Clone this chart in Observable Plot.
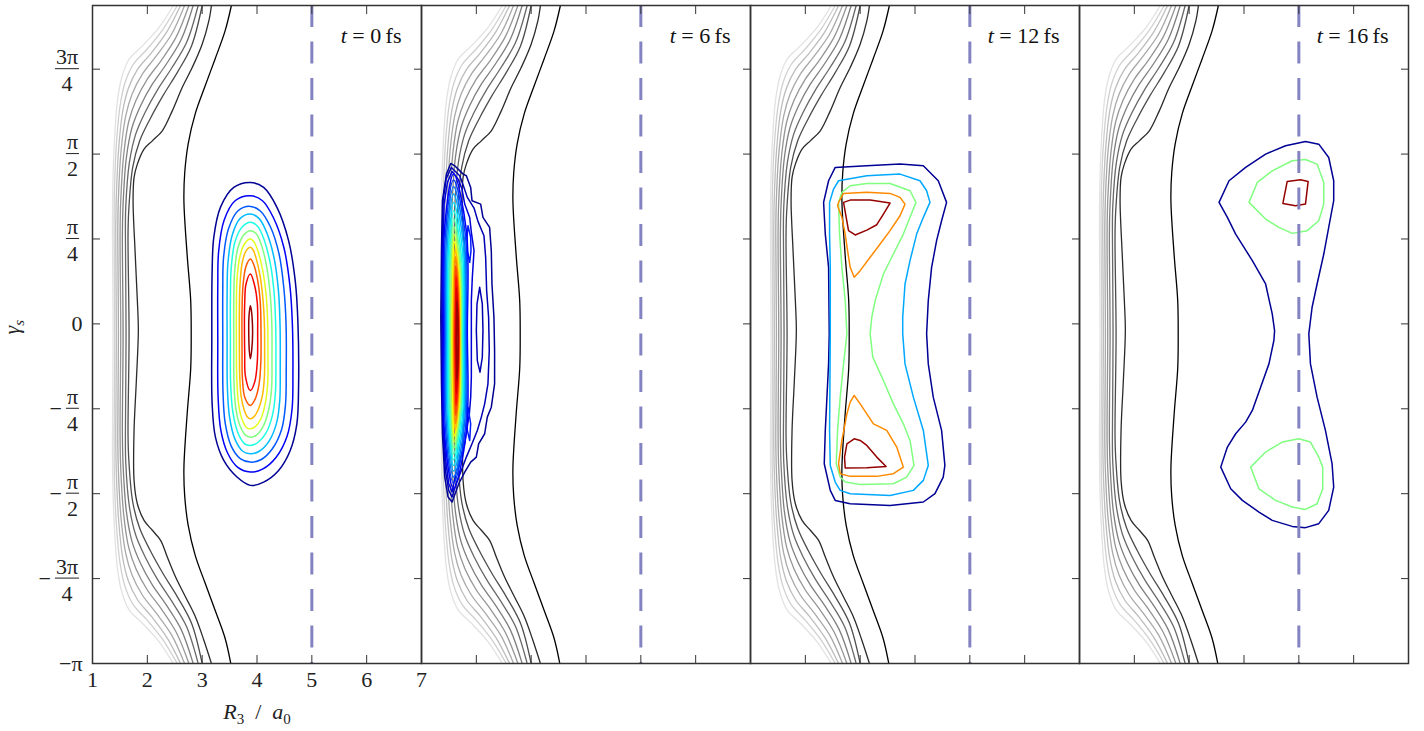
<!DOCTYPE html>
<html><head><meta charset="utf-8">
<script src="https://cdn.jsdelivr.net/npm/d3@7"></script>
<script src="https://cdn.jsdelivr.net/npm/@observablehq/plot@0.6"></script>
<style>
html,body{margin:0;padding:0;background:#fff;}
svg text{font-family:"Liberation Serif","DejaVu Serif",serif;}
</style>
</head><body>
<script>
// ================= DATA =================
const times = [0, 6, 12, 16];                   // fs, one panel each
const xTicks = [1, 2, 3, 4, 5, 6, 7];           // R3 / a0
const yTicks = [-4, -3, -2, -1, 0, 1, 2, 3];    // γs in units of π/4
const yDomain = [-4, 3.75];
const xDomain = [1, 7];
const yFracTicks = [3, 2, 1, -1, -2, -3];
const yFracNum = ["3π", "π", "π", "π", "π", "3π"];
const yFracDen = ["4", "2", "4", "4", "2", "4"];
const yPlainTicks = [0, -4];
const yPlainText = ["0", "−π"];
const boundaryR = [5];
const xLabel = "R3 / a0";
const yLabel = "γs";

// potential energy contours (same in every panel), [R3, γs/(π/4)], lightest to darkest
const potential1 = [[2.473,3.75],[2.212,3.490],[1.909,3.274],[1.667,3.117],[1.533,2.902],[1.455,2.627],[1.4,2.156],[1.370,1.607],[1.364,1.058],[1.376,-0.126],[1.364,-1.310],[1.370,-1.859],[1.4,-2.408],[1.455,-2.879],[1.533,-3.154],[1.667,-3.369],[1.909,-3.526],[2.212,-3.742],[2.473,-4.0]];
const potential2 = [[2.545,3.75],[2.285,3.470],[1.994,3.235],[1.745,3.058],[1.594,2.843],[1.503,2.568],[1.436,2.117],[1.4,1.568],[1.394,1.058],[1.406,-0.126],[1.394,-1.310],[1.4,-1.820],[1.436,-2.369],[1.503,-2.820],[1.594,-3.095],[1.745,-3.310],[1.994,-3.487],[2.285,-3.722],[2.545,-4.0]];
const potential3 = [[2.606,3.75],[2.358,3.443],[2.079,3.196],[1.824,3.0],[1.655,2.776],[1.552,2.509],[1.479,2.078],[1.436,1.529],[1.424,1.058],[1.436,-0.126],[1.424,-1.310],[1.436,-1.781],[1.479,-2.330],[1.552,-2.761],[1.655,-3.028],[1.824,-3.252],[2.079,-3.448],[2.358,-3.695],[2.606,-4.0]];
const potential4 = [[2.679,3.75],[2.442,3.411],[2.164,3.156],[1.909,2.941],[1.721,2.705],[1.606,2.451],[1.521,2.039],[1.473,1.490],[1.461,1.058],[1.473,-0.126],[1.461,-1.310],[1.473,-1.742],[1.521,-2.291],[1.606,-2.703],[1.721,-2.957],[1.909,-3.193],[2.164,-3.408],[2.442,-3.663],[2.679,-4.0]];
const potential5 = [[2.758,3.75],[2.527,3.380],[2.255,3.105],[2.0,2.882],[1.794,2.635],[1.661,2.384],[1.570,2.0],[1.515,1.451],[1.503,1.058],[1.515,-0.126],[1.503,-1.310],[1.515,-1.703],[1.570,-2.252],[1.661,-2.636],[1.794,-2.887],[2.0,-3.134],[2.255,-3.357],[2.527,-3.632],[2.758,-4.0]];
const potential6 = [[2.836,3.75],[2.618,3.349],[2.345,3.058],[2.091,2.823],[1.873,2.564],[1.721,2.313],[1.618,1.960],[1.558,1.411],[1.545,1.058],[1.558,-0.126],[1.545,-1.310],[1.558,-1.663],[1.618,-2.212],[1.721,-2.565],[1.873,-2.816],[2.091,-3.075],[2.345,-3.310],[2.618,-3.601],[2.836,-4.0]];
const potential7 = [[2.927,3.75],[2.715,3.313],[2.442,3.011],[2.188,2.760],[1.958,2.490],[1.788,2.235],[1.673,1.902],[1.606,1.372],[1.6,1.058],[1.612,-0.126],[1.6,-1.310],[1.606,-1.624],[1.673,-2.154],[1.788,-2.487],[1.958,-2.742],[2.188,-3.012],[2.442,-3.263],[2.715,-3.565],[2.927,-4.0]];
const potential8 = [[3.0,3.75],[2.806,3.274],[2.545,2.960],[2.291,2.694],[2.048,2.411],[1.861,2.156],[1.733,1.843],[1.661,1.333],[1.648,1.058],[1.667,-0.126],[1.648,-1.310],[1.661,-1.585],[1.733,-2.095],[1.861,-2.408],[2.048,-2.663],[2.291,-2.946],[2.545,-3.212],[2.806,-3.526],[3.0,-4.0]];
const potential9 = [[3.169,3.75],[3.122,3.568],[3.0,3.294],[2.818,3.019],[2.636,2.784],[2.455,2.509],[2.273,2.274],[2.091,2.156],[1.940,2.059],[1.818,1.882],[1.758,1.725],[1.740,1.451],[1.776,0.862],[1.818,0.274],[1.836,-0.079],[1.800,-0.667],[1.758,-1.255],[1.758,-1.844],[1.818,-2.118],[1.940,-2.314],[2.091,-2.431],[2.242,-2.549],[2.364,-2.746],[2.515,-2.981],[2.697,-3.216],[2.878,-3.452],[3.031,-3.726],[3.169,-4.0]];
const potential10 = [[3.533,3.75],[3.418,3.451],[3.236,3.121],[3.055,2.804],[2.873,2.474],[2.745,2.121],[2.682,1.780],[2.667,1.451],[2.727,0.804],[2.791,0.274],[2.8,-0.126],[2.791,-0.526],[2.727,-1.055],[2.667,-1.702],[2.682,-2.032],[2.745,-2.373],[2.873,-2.726],[3.055,-3.055],[3.236,-3.373],[3.418,-3.702],[3.522,-4.0]];
const potentialLines = [potential1, potential2, potential3, potential4, potential5, potential6, potential7, potential8, potential9, potential10];

// density contours, level = fraction of the panel maximum
const density0 = [
 {level:0.02, pts:[[3.879,1.666],[3.576,1.607],[3.333,1.372],[3.212,1.019],[3.182,0.627],[3.176,-0.157],[3.182,-0.942],[3.242,-1.334],[3.394,-1.608],[3.636,-1.804],[3.879,-1.902],[4.121,-1.863],[4.394,-1.726],[4.606,-1.491],[4.727,-1.177],[4.758,-0.746],[4.745,0.039],[4.697,0.509],[4.576,0.980],[4.364,1.372],[4.121,1.607]]},
 {level:0.116, pts:[[3.879,1.509],[3.6,1.45],[3.40,1.22],[3.30,0.85],[3.285,0.45],[3.285,-0.2],[3.29,-0.85],[3.34,-1.25],[3.47,-1.53],[3.65,-1.69],[3.879,-1.745],[4.10,-1.71],[4.35,-1.57],[4.55,-1.32],[4.64,-1.0],[4.655,-0.6],[4.645,0.0],[4.60,0.45],[4.49,0.90],[4.30,1.25],[4.10,1.45]]},
 {level:0.212, pts:[[3.879,1.384],[3.65,1.33],[3.48,1.12],[3.39,0.78],[3.376,0.4],[3.376,-0.2],[3.38,-0.8],[3.42,-1.17],[3.53,-1.44],[3.70,-1.59],[3.879,-1.628],[4.07,-1.60],[4.28,-1.47],[4.45,-1.24],[4.52,-0.95],[4.533,-0.55],[4.53,0.0],[4.49,0.42],[4.40,0.83],[4.24,1.15],[4.06,1.33]]},
 {level:0.308, pts:[[3.879,1.294],[3.69,1.24],[3.55,1.05],[3.47,0.72],[3.455,0.35],[3.455,-0.2],[3.46,-0.75],[3.50,-1.10],[3.60,-1.36],[3.74,-1.50],[3.879,-1.530],[4.04,-1.50],[4.22,-1.38],[4.36,-1.16],[4.415,-0.9],[4.424,-0.5],[4.42,0.0],[4.39,0.40],[4.31,0.78],[4.18,1.07],[4.04,1.24]]},
 {level:0.404, pts:[[3.879,1.196],[3.73,1.14],[3.60,0.97],[3.53,0.66],[3.515,0.3],[3.515,-0.2],[3.52,-0.72],[3.56,-1.04],[3.65,-1.28],[3.77,-1.41],[3.879,-1.432],[4.01,-1.40],[4.16,-1.29],[4.28,-1.08],[4.335,-0.82],[4.345,-0.45],[4.34,0.0],[4.31,0.38],[4.24,0.72],[4.13,0.99],[4.01,1.15]]},
 {level:0.5, pts:[[3.879,1.098],[3.76,1.05],[3.65,0.89],[3.59,0.60],[3.576,0.25],[3.576,-0.2],[3.58,-0.68],[3.61,-0.98],[3.69,-1.20],[3.79,-1.31],[3.879,-1.334],[3.99,-1.31],[4.11,-1.21],[4.21,-1.02],[4.265,-0.77],[4.273,-0.42],[4.27,0.0],[4.24,0.35],[4.18,0.66],[4.09,0.91],[3.99,1.06]]},
 {level:0.596, pts:[[3.879,0.999],[3.78,0.95],[3.69,0.80],[3.635,0.52],[3.624,0.2],[3.624,-0.2],[3.63,-0.62],[3.66,-0.92],[3.72,-1.11],[3.81,-1.22],[3.879,-1.236],[3.97,-1.21],[4.07,-1.12],[4.15,-0.94],[4.195,-0.70],[4.200,-0.38],[4.195,0.0],[4.17,0.32],[4.11,0.61],[4.03,0.83],[3.95,0.96]]},
 {level:0.692, pts:[[3.879,0.902],[3.80,0.86],[3.73,0.72],[3.69,0.46],[3.679,0.15],[3.679,-0.25],[3.685,-0.6],[3.71,-0.85],[3.77,-1.02],[3.83,-1.10],[3.879,-1.118],[3.95,-1.09],[4.03,-1.00],[4.10,-0.84],[4.135,-0.62],[4.139,-0.35],[4.135,0.0],[4.11,0.28],[4.06,0.55],[3.99,0.76],[3.93,0.87]]},
 {level:0.788, pts:[[3.879,0.764],[3.80,0.68],[3.745,0.45],[3.727,0.15],[3.727,-0.3],[3.735,-0.65],[3.78,-0.87],[3.879,-0.961],[3.97,-0.88],[4.04,-0.70],[4.07,-0.45],[4.073,-0.1],[4.06,0.25],[4.01,0.52],[3.94,0.70]]},
 {level:0.884, pts:[[3.879,0.588],[3.80,0.47],[3.776,0.25],[3.776,-0.35],[3.79,-0.62],[3.879,-0.785],[3.96,-0.68],[4.005,-0.45],[4.012,-0.1],[4.005,0.25],[3.95,0.47]]},
 {level:0.98, pts:[[3.879,0.215],[3.853,0.08],[3.85,-0.12],[3.86,-0.32],[3.879,-0.412],[3.905,-0.30],[3.92,-0.10],[3.91,0.08],[3.895,0.17]]}
];

const density6Outer = [
 {level:0.02, pts:[[1.533,1.890],[1.606,1.862],[1.758,1.764],[1.818,1.745],[1.897,1.607],[1.921,1.451],[2.079,1.411],[2.121,1.254],[2.242,1.137],[2.273,0.862],[2.285,0.470],[2.321,0.078],[2.333,-0.314],[2.333,-0.706],[2.273,-0.981],[2.2,-1.098],[2.152,-1.294],[2.042,-1.412],[2.0,-1.569],[1.897,-1.628],[1.788,-1.745],[1.679,-1.883],[1.558,-2.098],[1.485,-2.040],[1.424,-1.804],[1.382,-1.294],[1.364,-0.706],[1.352,0.078],[1.364,0.862],[1.382,1.451],[1.455,1.764]]},
 {level:0.05, pts:[[1.545,1.843],[1.697,1.745],[1.764,1.627],[1.836,1.490],[1.958,1.364],[2.030,1.207],[2.139,1.039],[2.170,0.784],[2.188,0.392],[2.224,0.078],[2.236,-0.314],[2.212,-0.706],[2.152,-0.942],[2.091,-1.098],[2.018,-1.255],[1.921,-1.412],[1.818,-1.569],[1.727,-1.726],[1.630,-1.883],[1.558,-2.040],[1.497,-1.961],[1.436,-1.726],[1.394,-1.294],[1.376,-0.706],[1.370,0.078],[1.376,0.862],[1.394,1.451],[1.448,1.706]]},
 {level:0.085, pts:[[1.558,1.796],[1.667,1.705],[1.739,1.588],[1.788,1.411],[1.879,1.254],[1.909,1.078],[1.958,0.862],[1.927,0.549],[1.909,0.274],[1.909,0.0],[1.909,-0.314],[1.909,-0.628],[1.897,-0.863],[1.873,-1.059],[1.824,-1.255],[1.788,-1.412],[1.697,-1.608],[1.618,-1.785],[1.558,-1.981],[1.497,-1.883],[1.448,-1.647],[1.406,-1.294],[1.388,-0.706],[1.388,0.078],[1.394,0.862],[1.412,1.411],[1.473,1.666]]},
 {level:0.05, pts:[[2.061,0.431],[2.109,0.235],[2.121,-0.079],[2.109,-0.393],[2.067,-0.569],[2.018,-0.432],[2.0,-0.079],[2.012,0.235]]},
 {level:0.15, pts:[[1.848,1.157],[1.897,1.019],[1.903,0.862],[1.879,0.725],[1.836,0.862],[1.830,1.019]]},
 {level:0.15, pts:[[1.848,-0.981],[1.897,-1.177],[1.879,-1.373],[1.836,-1.255],[1.824,-1.098]]}
];
const density6Core = [
 {level:0.12,  pts:[[1.585,1.764],[1.418,1.098],[1.406,-0.087],[1.418,-1.275],[1.585,-1.942],[1.818,-1.275],[1.836,-0.087],[1.818,1.098]]},
 {level:0.177, pts:[[1.585,1.694],[1.436,1.051],[1.424,-0.091],[1.436,-1.232],[1.585,-1.875],[1.8,-1.232],[1.818,-0.091],[1.8,1.051]]},
 {level:0.233, pts:[[1.585,1.615],[1.455,0.999],[1.442,-0.095],[1.455,-1.189],[1.585,-1.804],[1.782,-1.189],[1.8,-0.095],[1.782,0.999]]},
 {level:0.29,  pts:[[1.585,1.529],[1.473,0.941],[1.461,-0.103],[1.473,-1.145],[1.585,-1.734],[1.764,-1.145],[1.782,-0.103],[1.764,0.941]]},
 {level:0.347, pts:[[1.585,1.431],[1.491,0.874],[1.479,-0.118],[1.491,-1.110],[1.585,-1.667],[1.745,-1.110],[1.764,-0.118],[1.745,0.874]]},
 {level:0.403, pts:[[1.585,1.333],[1.509,0.804],[1.497,-0.134],[1.509,-1.071],[1.585,-1.6],[1.727,-1.071],[1.745,-0.134],[1.727,0.804]]},
 {level:0.46,  pts:[[1.588,1.235],[1.527,0.737],[1.515,-0.149],[1.527,-1.032],[1.588,-1.53],[1.715,-1.032],[1.733,-0.149],[1.715,0.737]]},
 {level:0.517, pts:[[1.591,1.145],[1.545,0.674],[1.533,-0.157],[1.545,-0.993],[1.591,-1.463],[1.703,-0.993],[1.721,-0.157],[1.703,0.674]]},
 {level:0.573, pts:[[1.594,1.058],[1.564,0.615],[1.552,-0.169],[1.564,-0.953],[1.594,-1.396],[1.691,-0.953],[1.709,-0.169],[1.691,0.615]]},
 {level:0.63,  pts:[[1.597,0.972],[1.576,0.56],[1.564,-0.177],[1.576,-0.914],[1.597,-1.326],[1.685,-0.914],[1.703,-0.177],[1.685,0.56]]},
 {level:0.687, pts:[[1.612,0.882],[1.588,0.498],[1.576,-0.189],[1.588,-0.871],[1.612,-1.255],[1.679,-0.871],[1.697,-0.189],[1.679,0.498]]},
 {level:0.743, pts:[[1.618,0.792],[1.6,0.439],[1.588,-0.193],[1.6,-0.824],[1.618,-1.177],[1.673,-0.824],[1.691,-0.193],[1.673,0.439]]},
 {level:0.80,  pts:[[1.624,0.686],[1.612,0.368],[1.6,-0.197],[1.612,-0.762],[1.624,-1.079],[1.667,-0.762],[1.685,-0.197],[1.667,0.368]]},
 {level:0.857, pts:[[1.63,0.568],[1.624,0.294],[1.612,-0.197],[1.624,-0.687],[1.63,-0.961],[1.661,-0.687],[1.679,-0.197],[1.661,0.294]]},
 {level:0.913, pts:[[1.636,0.431],[1.63,0.204],[1.624,-0.197],[1.63,-0.596],[1.636,-0.824],[1.655,-0.596],[1.673,-0.197],[1.655,0.204]]},
 {level:0.97,  pts:[[1.648,0.274],[1.642,0.105],[1.636,-0.197],[1.642,-0.499],[1.648,-0.667],[1.661,-0.499],[1.667,-0.197],[1.661,0.105]]}
];

const density12 = [
 {level:0.02, pts:[[2.545,1.843],[3.121,1.862],[3.727,1.882],[4.152,1.862],[4.424,1.686],[4.576,1.431],[4.485,1.215],[4.394,0.980],[4.303,0.666],[4.242,0.274],[4.212,-0.118],[4.242,-0.471],[4.333,-0.863],[4.485,-1.255],[4.545,-1.667],[4.515,-1.804],[4.364,-2.0],[4.152,-2.098],[3.545,-2.138],[2.818,-2.118],[2.545,-2.079],[2.455,-1.961],[2.345,-1.647],[2.364,-1.255],[2.424,-0.471],[2.436,-0.118],[2.424,0.666],[2.364,1.058],[2.333,1.431],[2.424,1.686]]},
 {level:0.29, pts:[[2.606,1.686],[3.121,1.745],[3.727,1.764],[4.091,1.686],[4.212,1.568],[4.273,1.431],[4.152,1.255],[4.030,1.058],[3.909,0.745],[3.818,0.470],[3.776,0.078],[3.776,-0.118],[3.818,-0.471],[3.970,-0.863],[4.152,-1.255],[4.242,-1.667],[4.152,-1.843],[3.970,-1.961],[3.545,-2.020],[2.818,-2.0],[2.636,-1.961],[2.545,-1.863],[2.455,-1.667],[2.442,-1.255],[2.455,-0.118],[2.455,0.666],[2.442,1.058],[2.442,1.431],[2.515,1.588]]},
 {level:0.5, pts:[[2.667,1.549],[2.818,1.627],[3.121,1.654],[3.545,1.654],[3.909,1.568],[4.018,1.431],[3.909,1.255],[3.788,1.058],[3.606,0.823],[3.424,0.588],[3.273,0.274],[3.212,0.078],[3.182,-0.118],[3.230,-0.392],[3.424,-0.667],[3.606,-0.942],[3.788,-1.177],[3.909,-1.373],[3.982,-1.667],[3.848,-1.804],[3.606,-1.883],[3.0,-1.891],[2.727,-1.863],[2.636,-1.804],[2.564,-1.647],[2.588,-1.255],[2.636,-0.863],[2.697,-0.471],[2.758,-0.118],[2.727,0.274],[2.667,0.666],[2.624,1.058],[2.606,1.431]]},
 {level:0.74, pts:[[2.606,1.431],[2.697,1.537],[3.121,1.549],[3.545,1.537],[3.727,1.490],[3.818,1.411],[3.727,1.274],[3.545,1.098],[3.364,0.941],[3.182,0.784],[3.0,0.627],[2.891,0.549],[2.818,0.666],[2.770,0.862],[2.727,1.058],[2.667,1.255],[2.588,1.392]]},
 {level:0.74, pts:[[2.891,-0.843],[3.0,-0.942],[3.121,-1.059],[3.242,-1.177],[3.485,-1.255],[3.667,-1.451],[3.788,-1.687],[3.606,-1.765],[3.303,-1.796],[2.818,-1.796],[2.636,-1.765],[2.606,-1.647],[2.667,-1.373],[2.758,-1.059],[2.818,-0.922]]},
 {level:0.98, pts:[[2.697,1.431],[2.818,1.458],[3.182,1.458],[3.545,1.423],[3.424,1.294],[3.303,1.168],[3.121,1.105],[2.909,1.047],[2.788,1.098],[2.745,1.255]]},
 {level:0.98, pts:[[2.891,-1.353],[3.0,-1.373],[3.121,-1.432],[3.303,-1.569],[3.473,-1.679],[3.121,-1.694],[2.727,-1.698],[2.715,-1.569],[2.758,-1.412]]}
];

const density16 = [
 {level:0.02, pts:[[3.545,1.431],[3.727,1.686],[4.030,1.843],[4.394,2.0],[4.758,2.098],[5.121,2.149],[5.364,2.117],[5.545,1.960],[5.636,1.686],[5.636,1.451],[5.545,1.137],[5.455,0.823],[5.333,0.470],[5.242,0.196],[5.182,-0.118],[5.212,-0.471],[5.333,-0.863],[5.485,-1.255],[5.606,-1.647],[5.636,-1.922],[5.545,-2.196],[5.364,-2.353],[5.121,-2.400],[4.879,-2.385],[4.515,-2.314],[4.273,-2.216],[3.970,-2.079],[3.758,-1.942],[3.576,-1.687],[3.697,-1.451],[3.848,-1.294],[4.030,-1.157],[4.152,-1.020],[4.303,-0.745],[4.455,-0.471],[4.545,-0.196],[4.558,-0.079],[4.515,0.117],[4.394,0.470],[4.152,0.745],[4.0,0.901],[3.848,1.058],[3.697,1.255]]},
 {level:0.5, pts:[[4.091,1.431],[4.242,1.666],[4.515,1.803],[4.879,1.921],[5.121,1.937],[5.333,1.882],[5.455,1.666],[5.455,1.411],[5.364,1.215],[5.152,1.098],[4.879,1.066],[4.636,1.137],[4.394,1.235]]},
 {level:0.5, pts:[[4.121,-1.687],[4.394,-1.510],[4.697,-1.392],[5.0,-1.353],[5.212,-1.392],[5.364,-1.569],[5.436,-1.687],[5.436,-1.942],[5.333,-2.118],[5.121,-2.185],[4.879,-2.157],[4.576,-2.079],[4.273,-1.942]]},
 {level:0.98, pts:[[4.788,1.678],[5.030,1.698],[5.170,1.678],[5.121,1.411],[4.939,1.392],[4.709,1.419]]}
];

// ================= STYLE =================
const grays = ["#e2e2e2","#d0d0d0","#bdbdbd","#a9a9a9","#959595","#7f7f7f","#686868","#4d4d4d","#2a2a2a","#000000"];
function jet(t) {
  const c = v => Math.max(0, Math.min(1, v));
  return d3.rgb(255 * c(1.5 - Math.abs(4 * t - 3)), 255 * c(1.5 - Math.abs(4 * t - 2)), 255 * c(1.5 - Math.abs(4 * t - 1))).formatHex();
}
function rows(t, list, tag) {
  return list.flatMap((c, k) => c.pts.map(([x, y]) => ({t, id: `${t}-${tag}-${k}`, level: c.level, x, y})));
}
const smoothRows = [...rows(0, density0, "a"), ...rows(6, density6Core, "c")];
const polyRows = [...rows(6, density6Outer, "o"), ...rows(12, density12, "a"), ...rows(16, density16, "a")];
const first = () => times[0];
const FS = 22;

const plot = Plot.plot({
  width: 1424, height: 731,
  marginLeft: 90, marginRight: 15, marginTop: 5, marginBottom: 68,
  style: {background: "white", fontFamily: "Liberation Serif, serif", fontSize: "22px", color: "#222"},
  fx: {domain: times, padding: 0, axis: null},
  x: {domain: xDomain},
  y: {domain: yDomain},
  color: {type: "linear", domain: [0, 1], interpolate: jet},
  marks: [
    ...potentialLines.map((pts, i) => Plot.line(pts, {x: d => d[0], y: d => d[1], stroke: grays[i], strokeWidth: 1.3, curve: "catmull-rom", clip: true})),
    Plot.line(polyRows, {fx: "t", x: "x", y: "y", z: "id", stroke: "level", strokeWidth: 1.5, curve: "linear-closed", clip: true}),
    Plot.line(smoothRows, {fx: "t", x: "x", y: "y", z: "id", stroke: "level", strokeWidth: 1.5, curve: "catmull-rom-closed", clip: true}),
    Plot.ruleX(boundaryR, {stroke: "#8383c2", strokeWidth: 3, strokeDasharray: "22,14.5"}),
    Plot.frame({stroke: "#333", strokeWidth: 1.5}),
    Plot.axisX(xTicks, {anchor: "top", tickSize: -8, fill: "none", label: null, stroke: "#333"}),
    Plot.axisX(xTicks, {anchor: "bottom", tickSize: -8, fill: "none", label: null, stroke: "#333"}),
    Plot.axisY(yTicks, {anchor: "left", tickSize: -8, fill: "none", label: null, stroke: "#333"}),
    Plot.axisY(yTicks, {anchor: "right", tickSize: -8, fill: "none", label: null, stroke: "#333", facetAnchor: null}),
    Plot.text(times, {fx: d => d, text: d => `t = ${d}\u2009fs`, frameAnchor: "top-right", dx: -20, dy: 22, fontSize: FS, fill: "#111", className: "ptitle"}),
    Plot.text(xTicks, {fx: first, x: d => d, text: d => String(d), frameAnchor: "bottom", dy: 23, fontSize: FS, fill: "#222"}),
    Plot.text(yFracTicks, {fx: first, y: d => d, text: (d, i) => yFracNum[i], frameAnchor: "left", dx: -19, dy: -12, textAnchor: "middle", fontSize: FS, fill: "#222", className: "ynum"}),
    Plot.text(yFracTicks, {fx: first, y: d => d, text: (d, i) => yFracDen[i], frameAnchor: "left", dx: -19, dy: 15, textAnchor: "middle", fontSize: FS, fill: "#222", className: "yden"}),
    Plot.text(yFracTicks.filter(d => d < 0), {fx: first, y: d => d, text: () => "−", frameAnchor: "left", dx: -40, textAnchor: "end", fontSize: FS, fill: "#222", className: "yminus"}),
    Plot.text(yPlainTicks, {fx: first, y: d => d, text: (d, i) => yPlainText[i], frameAnchor: "left", dx: -10, textAnchor: "end", fontSize: FS, fill: "#222"}),
    Plot.text([xLabel], {fx: first, text: d => d, frameAnchor: "bottom", dy: 55, fontSize: 22, fill: "#222", className: "xlab"}),
    Plot.text([yLabel], {fx: first, text: d => d, frameAnchor: "left", dx: -81, rotate: -90, fontSize: 22, fill: "#222", className: "ylab"})
  ]
});
document.body.appendChild(plot);

// ---------- typographic touch-ups (italics, sub-scripts, fraction bars) ----------
const NS = "http://www.w3.org/2000/svg";
function ts(parent, txt, attrs = {}) {
  const s = document.createElementNS(NS, "tspan");
  for (const k in attrs) s.setAttribute(k, attrs[k]);
  s.textContent = txt; parent.appendChild(s); return s;
}
plot.querySelectorAll(".ptitle text").forEach(el => {
  const rest = el.textContent.slice(1); el.textContent = "";
  ts(el, "t", {"font-style": "italic"}); ts(el, rest);
});
plot.querySelectorAll(".xlab text").forEach(el => {
  el.textContent = "";
  ts(el, "R", {"font-style": "italic"}); ts(el, "3", {"font-size": 15, dy: 5});
  ts(el, "\u2002/\u2002", {dy: -5}); ts(el, "a", {"font-style": "italic"}); ts(el, "0", {"font-size": 15, dy: 5});
});
plot.querySelectorAll(".ylab text").forEach(el => {
  el.textContent = "";
  ts(el, "γ", {"font-style": "italic"}); ts(el, "s", {"font-style": "italic", "font-size": 15, dy: 5});
});
const root = plot.getBoundingClientRect();
const bx = el => { const r = el.getBoundingClientRect(); return {l: r.left - root.left, r: r.right - root.left}; };
const shift = (el, dx) => el.setAttribute("transform", `translate(${dx},0) ` + (el.getAttribute("transform") || ""));
const yS = plot.scale("y");
const nums = [...plot.querySelectorAll(".ynum text")], dens = [...plot.querySelectorAll(".yden text")], mins = [...plot.querySelectorAll(".yminus text")];
let mi = 0;
nums.forEach((n, i) => {
  const d = dens[i]; if (!d) return;
  const bn = bx(n), bd = bx(d);
  const w = Math.max(bn.r - bn.l, bd.r - bd.l) + 2;
  const cx = 79 - w / 2;
  shift(n, cx - (bn.l + bn.r) / 2); shift(d, cx - (bd.l + bd.r) / 2);
  const y = yS.apply(yFracTicks[i]);
  const ln = document.createElementNS(NS, "line");
  ln.setAttribute("x1", cx - w / 2); ln.setAttribute("x2", cx + w / 2);
  ln.setAttribute("y1", y); ln.setAttribute("y2", y);
  ln.setAttribute("stroke", "#222"); ln.setAttribute("stroke-width", 1);
  plot.appendChild(ln);
  if (yFracTicks[i] < 0 && mins[mi]) {
    const m = mins[mi++]; const bm = bx(m);
    shift(m, (cx - w / 2 - 4) - bm.r);
  }
});
</script>
</body></html>
